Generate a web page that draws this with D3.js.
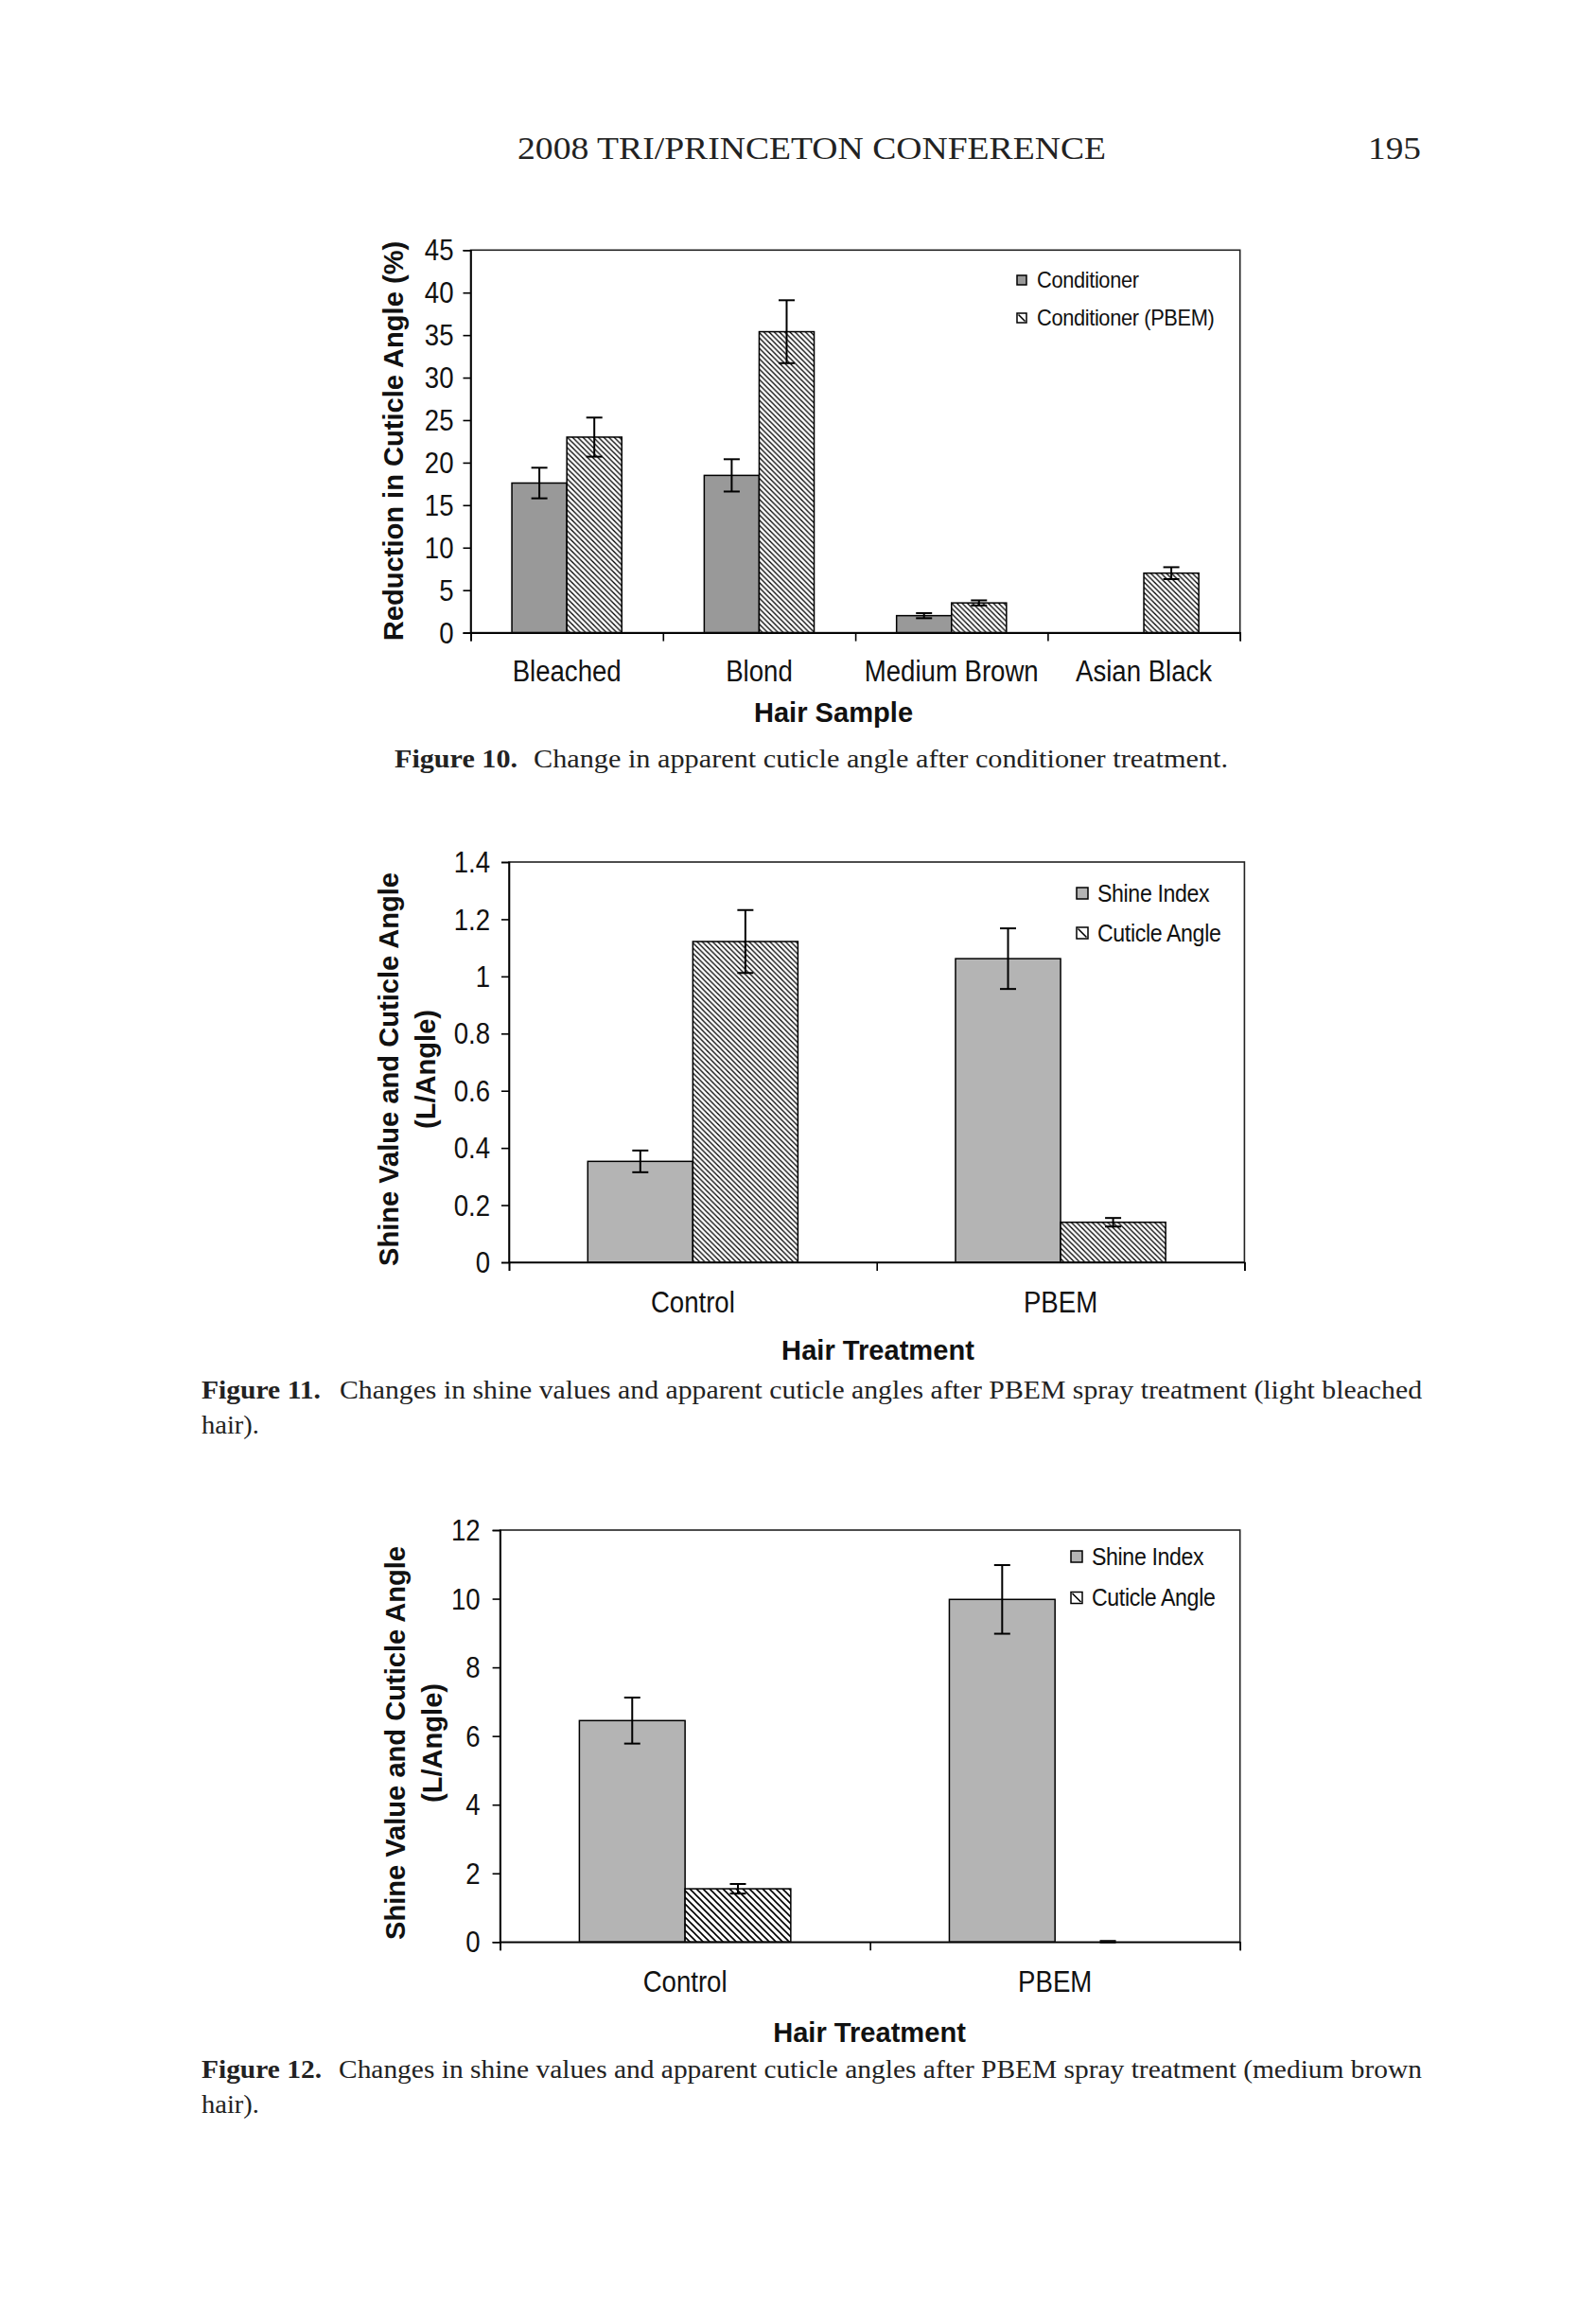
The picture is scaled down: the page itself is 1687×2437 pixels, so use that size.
<!DOCTYPE html>
<html><head><meta charset="utf-8">
<script src="https://cdn.jsdelivr.net/npm/d3@7"></script>
<style>body{margin:0;background:#fff}</style>
</head><body><svg id="page"></svg>
<script>
// ---------- DATA ----------
const fig10Categories = ["Bleached", "Blond", "Medium Brown", "Asian Black"];
const fig10SeriesNames = ["Conditioner", "Conditioner (PBEM)"];
const fig10Conditioner = [17.6, 18.5, 2.0, null];
const fig10ConditionerErr = [1.8, 1.9, 0.3, null];
const fig10PBEM = [23.0, 35.4, 3.5, 7.0];
const fig10PBEMErr = [2.3, 3.7, 0.3, 0.7];
const fig10Ticks = [0, 5, 10, 15, 20, 25, 30, 35, 40, 45];

const fig11Categories = ["Control", "PBEM"];
const fig11SeriesNames = ["Shine Index", "Cuticle Angle"];
const fig11Shine = [0.353, 1.062];
const fig11ShineErr = [0.038, 0.106];
const fig11Angle = [1.122, 0.140];
const fig11AngleErr = [0.11, 0.015];
const fig11Ticks = [0, 0.2, 0.4, 0.6, 0.8, 1.0, 1.2, 1.4];

const fig12Categories = ["Control", "PBEM"];
const fig12SeriesNames = ["Shine Index", "Cuticle Angle"];
const fig12Shine = [6.45, 9.98];
const fig12ShineErr = [0.67, 1.0];
const fig12Angle = [1.55, 0.01];
const fig12AngleErr = [0.14, 0.02];
const fig12Ticks = [0, 2, 4, 6, 8, 10, 12];

const headerText = "2008 TRI/PRINCETON CONFERENCE";
const pageNumber = "195";
const captions = [
  {label: "Figure 10.", lines: ["Change in apparent cuticle angle after conditioner treatment."]},
  {label: "Figure 11.", lines: ["Changes in shine values and apparent cuticle angles after PBEM spray treatment (light bleached", "hair)."]},
  {label: "Figure 12.", lines: ["Changes in shine values and apparent cuticle angles after PBEM spray treatment (medium brown", "hair)."]}
];

// ---------- PAGE ----------
const W = 1687, H = 2437;
const svg = d3.select("#page").attr("width", W).attr("height", H);
svg.append("rect").attr("width", W).attr("height", H).attr("fill", "#fff");
const defs = svg.append("defs");
const SANS = "'Liberation Sans', Arial, sans-serif";
const SERIF = "'Liberation Serif', 'Times New Roman', serif";
const SX = 0.89; // horizontal condensing of chart text

function hatch(id, p, sw) {
  const pat = defs.append("pattern").attr("id", id)
    .attr("patternUnits", "userSpaceOnUse").attr("width", p).attr("height", p);
  pat.append("rect").attr("width", p).attr("height", p).attr("fill", "#fff");
  pat.append("path")
    .attr("d", `M0,0L${p},${p}M${p - 1.5},-1.5L${p + 1.5},1.5M-1.5,${p - 1.5}L1.5,${p + 1.5}`)
    .attr("stroke", "#000").attr("stroke-width", sw).attr("fill", "none");
}
hatch("hatchA", 5.5, 1.3);
hatch("hatchB", 5.5, 1.3);
hatch("hatchC", 7, 1.6);

// condensed text helper
function ctext(g, x, y, txt, fs, anchor, weight) {
  return g.append("text")
    .attr("transform", `translate(${x},${y}) scale(${SX},1)`)
    .attr("text-anchor", anchor).attr("dominant-baseline", "central")
    .attr("font-family", SANS).attr("font-size", fs).attr("fill", "#111")
    .attr("font-weight", weight || "normal").text(txt);
}

function drawChart(cfg) {
  const g = svg.append("g");
  const x = d3.scaleBand().domain(cfg.categories).range([cfg.left, cfg.right]).paddingInner(0).paddingOuter(0);
  const xs = d3.scaleBand().domain(cfg.seriesNames).range([0, x.bandwidth()]).paddingInner(0).paddingOuter(0.75);
  const y = d3.scaleLinear().domain([0, cfg.max]).range([cfg.bottom, cfg.top]);

  // bars
  cfg.series.forEach((s, si) => {
    const name = cfg.seriesNames[si];
    const data = cfg.categories.map((c, i) => ({c, v: s.values[i], e: s.errors[i]})).filter(d => d.v != null);
    g.selectAll(null).data(data.filter(d => y(0) - y(d.v) >= 1)).enter().append("rect")
      .attr("x", d => x(d.c) + xs(name))
      .attr("y", d => y(d.v))
      .attr("width", xs.bandwidth())
      .attr("height", d => y(0) - y(d.v))
      .attr("fill", s.fill).attr("stroke", "#000").attr("stroke-width", 1.5);
    const eb = g.selectAll(null).data(data).enter().append("g")
      .attr("transform", d => `translate(${x(d.c) + xs(name) + xs.bandwidth() / 2},0)`);
    eb.append("line").attr("x1", 0).attr("x2", 0)
      .attr("y1", d => y(d.v + d.e)).attr("y2", d => y(d.v - d.e))
      .attr("stroke", "#000").attr("stroke-width", 2);
    eb.append("line").attr("x1", -8.5).attr("x2", 8.5)
      .attr("y1", d => y(d.v + d.e)).attr("y2", d => y(d.v + d.e))
      .attr("stroke", "#000").attr("stroke-width", 2);
    eb.append("line").attr("x1", -8.5).attr("x2", 8.5)
      .attr("y1", d => y(d.v - d.e)).attr("y2", d => y(d.v - d.e))
      .attr("stroke", "#000").attr("stroke-width", 2);
  });

  // frame
  g.append("rect").attr("x", cfg.left).attr("y", cfg.top)
    .attr("width", cfg.right - cfg.left).attr("height", cfg.bottom - cfg.top)
    .attr("fill", "none").attr("stroke", "#222").attr("stroke-width", 1.6);

  // y axis
  const ya = g.append("g").attr("transform", `translate(${cfg.left},0)`)
    .call(d3.axisLeft(y).tickValues(cfg.ticks).tickSize(8).tickFormat(""));
  ya.select(".domain").attr("stroke", "#000").attr("stroke-width", 1.6);
  ya.selectAll(".tick line").attr("stroke", "#000").attr("stroke-width", 1.6);
  cfg.ticks.forEach(t => ctext(g, cfg.left - cfg.tickPad, y(t), cfg.tickFmt(t), cfg.tickFs, "end"));

  // x axis (boundary ticks)
  const xb = d3.scaleLinear().domain([0, cfg.categories.length]).range([cfg.left, cfg.right]);
  const xa = g.append("g").attr("transform", `translate(0,${cfg.bottom})`)
    .call(d3.axisBottom(xb).tickValues(d3.range(cfg.categories.length + 1)).tickSize(9).tickFormat(""));
  xa.select(".domain").attr("stroke", "#000").attr("stroke-width", 1.6);
  xa.selectAll(".tick line").attr("stroke", "#000").attr("stroke-width", 1.6);

  // category labels
  cfg.categories.forEach(c => ctext(g, x(c) + x.bandwidth() / 2, cfg.catY, c, cfg.tickFs, "middle"));

  // x title
  g.append("text").attr("x", cfg.xTitleX).attr("y", cfg.xTitleY)
    .attr("text-anchor", "middle").attr("dominant-baseline", "central")
    .attr("font-family", SANS).attr("font-weight", "bold").attr("font-size", 30).attr("fill", "#111")
    .attr("transform", `translate(${cfg.xTitleX},${cfg.xTitleY}) scale(0.97,1) translate(${-cfg.xTitleX},${-cfg.xTitleY})`)
    .text(cfg.xTitle);

  // y title
  cfg.yTitle.forEach((t, i) => {
    g.append("text").attr("transform", `translate(${cfg.yTitleX[i]},${cfg.yTitleY}) rotate(-90) scale(0.97,1)`)
      .attr("text-anchor", "middle").attr("dominant-baseline", "central")
      .attr("font-family", SANS).attr("font-weight", "bold").attr("font-size", 30).attr("fill", "#111")
      .text(t);
  });

  // legend
  cfg.seriesNames.forEach((n, i) => {
    const cy = cfg.legendRows[i], s = cfg.legendSize;
    g.append("rect").attr("x", cfg.legendX).attr("y", cy - s / 2).attr("width", s).attr("height", s)
      .attr("fill", cfg.series[i].legendHatch ? "#fff" : cfg.series[i].fill)
      .attr("stroke", "#000").attr("stroke-width", 1.5);
    if (cfg.series[i].legendHatch) {
      g.append("line").attr("x1", cfg.legendX + 1.5).attr("y1", cy - s / 2 + 1.5)
        .attr("x2", cfg.legendX + s - 1.5).attr("y2", cy + s / 2 - 1.5)
        .attr("stroke", "#000").attr("stroke-width", 1.6);
    }
    ctext(g, cfg.legendTextX, cy, n, cfg.legendFs, "start").attr("letter-spacing", -0.4);
  });
}

const fmt = d3.format("~g");

drawChart({
  left: 497.5, right: 1310.7, top: 264.3, bottom: 668.6, max: 45,
  categories: fig10Categories, seriesNames: fig10SeriesNames,
  series: [
    {values: fig10Conditioner, errors: fig10ConditionerErr, fill: "#999999"},
    {values: fig10PBEM, errors: fig10PBEMErr, fill: "url(#hatchA)", legendHatch: true}
  ],
  ticks: fig10Ticks, tickFmt: fmt, tickPad: 18, tickFs: 31,
  catY: 709, xTitle: "Hair Sample", xTitleX: 881, xTitleY: 752.5,
  yTitle: ["Reduction in Cuticle Angle (%)"], yTitleX: [415], yTitleY: 466,
  legendX: 1075, legendSize: 10, legendRows: [296, 336], legendTextX: 1096, legendFs: 24.5
});

drawChart({
  left: 538, right: 1315.4, top: 911, bottom: 1334, max: 1.4,
  categories: fig11Categories, seriesNames: fig11SeriesNames,
  series: [
    {values: fig11Shine, errors: fig11ShineErr, fill: "#b4b4b4"},
    {values: fig11Angle, errors: fig11AngleErr, fill: "url(#hatchB)", legendHatch: true}
  ],
  ticks: fig11Ticks, tickFmt: fmt, tickPad: 20, tickFs: 31,
  catY: 1376, xTitle: "Hair Treatment", xTitleX: 928, xTitleY: 1426,
  yTitle: ["Shine Value and Cuticle Angle", "(L/Angle)"], yTitleX: [410, 449], yTitleY: 1130,
  legendX: 1138, legendSize: 12, legendRows: [944, 986], legendTextX: 1160, legendFs: 26
});

drawChart({
  left: 528.6, right: 1310.7, top: 1617, bottom: 2052.3, max: 12,
  categories: fig12Categories, seriesNames: fig12SeriesNames,
  series: [
    {values: fig12Shine, errors: fig12ShineErr, fill: "#b4b4b4"},
    {values: fig12Angle, errors: fig12AngleErr, fill: "url(#hatchC)", legendHatch: true}
  ],
  ticks: fig12Ticks, tickFmt: fmt, tickPad: 21, tickFs: 31,
  catY: 2094, xTitle: "Hair Treatment", xTitleX: 919, xTitleY: 2147,
  yTitle: ["Shine Value and Cuticle Angle", "(L/Angle)"], yTitleX: [417, 456], yTitleY: 1842,
  legendX: 1132, legendSize: 12, legendRows: [1645, 1688.5], legendTextX: 1154, legendFs: 26
});

// ---------- header & captions ----------
function serifText(x, y, txt, len, fs, weight) {
  const t = svg.append("text").attr("x", x).attr("y", y)
    .attr("font-family", SERIF).attr("font-size", fs).attr("fill", "#222")
    .attr("font-weight", weight || "normal").text(txt);
  if (len) t.attr("textLength", len).attr("lengthAdjust", "spacingAndGlyphs");
  return t;
}
serifText(547, 168, headerText, 622, 33);
serifText(1446, 168, pageNumber, 56, 33);

serifText(417, 811, captions[0].label, 130, 27, "bold");
serifText(564, 811, captions[0].lines[0], 734, 27);

serifText(213, 1478, captions[1].label, 126, 27, "bold");
serifText(359, 1478, captions[1].lines[0], 1144, 27);
serifText(213, 1515, captions[1].lines[1], 61, 27);

serifText(213, 2196, captions[2].label, 127, 27, "bold");
serifText(358, 2196, captions[2].lines[0], 1145, 27);
serifText(213, 2233, captions[2].lines[1], 61, 27);
</script>
</body></html>
